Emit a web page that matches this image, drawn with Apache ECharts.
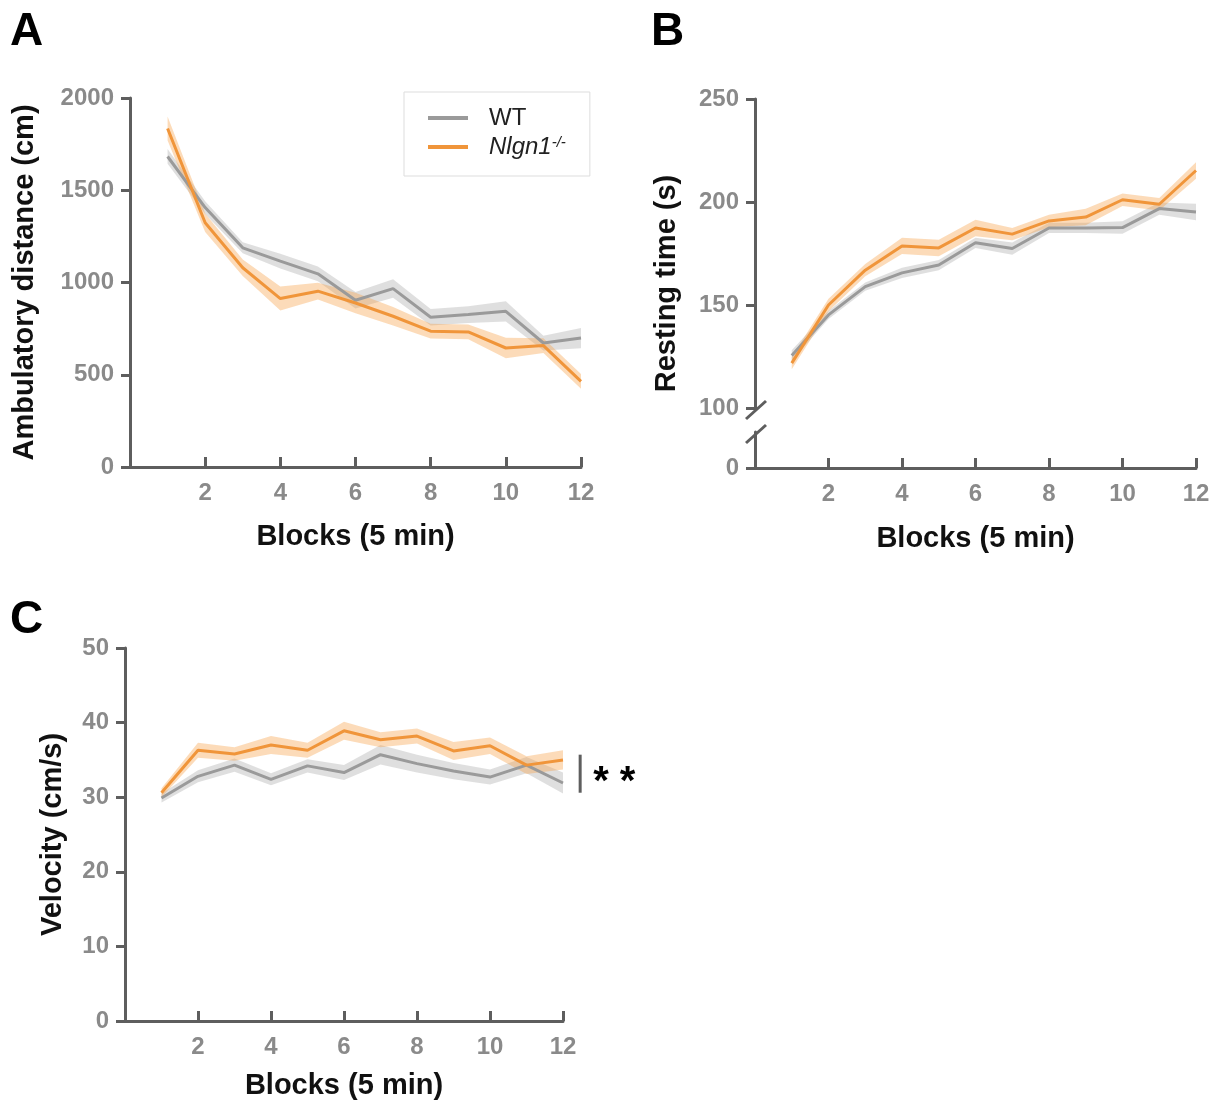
<!DOCTYPE html>
<html>
<head>
<meta charset="utf-8">
<script src="https://cdn.jsdelivr.net/npm/echarts@6/dist/echarts.min.js"></script>
<style>
html,body{margin:0;padding:0;background:#fff;}
#c{width:1223px;height:1103px;}
</style>
</head>
<body>
<div id="c"></div>
<script>
// ---------- data ----------
const blocks = [1,2,3,4,5,6,7,8,9,10,11,12];
const xTicks = [2,4,6,8,10,12];

// A: Ambulatory distance (cm)
const distWT     = [1683,1406,1188,1116,1047,904,967,812,826,844,672,699];
const distWTsem  = [40,35,30,40,40,45,50,45,45,55,40,55];
const distKO     = [1835,1324,1080,913,953,889,817,736,732,645,658,464];
const distKOsem  = [65,50,45,65,45,55,50,40,40,55,40,40];

// B: Resting time (s)
const restWT     = [125.5,145.2,158.9,165.6,169.4,180.2,177.4,187.4,187.4,187.6,196.8,195.2];
const restWTsem  = [2.5,2,2,2.5,2.5,2.5,3,2.5,2.5,3,3,4];
const restKO     = [121.8,150,166.9,178.7,177.7,187.4,184.4,190.8,192.7,201.1,198.9,215.3];
const restKOsem  = [3,3,3,4,4,4,3,3,4,3,3,4];

// C: Velocity (cm/s)
const velWT      = [29.9,32.8,34.3,32.4,34.2,33.3,35.7,34.5,33.5,32.7,34.3,31.9];
const velWTsem   = [0.6,0.8,0.9,0.8,0.9,1.0,1.3,1.2,1.1,1.0,1.1,1.4];
const velKO      = [30.6,36.3,35.8,37.0,36.3,38.9,37.7,38.2,36.2,36.9,34.3,35.0];
const velKOsem   = [0.6,1.0,0.9,1.2,1.0,1.2,1.0,1.0,1.2,1.1,1.2,1.3];

const groupNames = ['WT','Nlgn1'];
const sigText = '* *';
const sigRange = [35.7, 30.6];

// ---------- styles ----------
const C_WT = '#9a9a9a', C_KO = '#f0953a';
const B_WT = 'rgba(150,150,150,0.30)', B_KO = 'rgba(246,160,70,0.38)';
const AX = '#5e5e5e', LBL = '#8a8a8a';
const FONT = 'Arial, "Liberation Sans", sans-serif';
const NAME_STYLE = {fontSize:29, fontWeight:'bold', color:'#111', fontFamily:FONT};

function axisX(grid, show, name, gap){
  return {
    type:'value', gridIndex:grid, min:0, max:12, interval:2, show:show,
    name:name||'', nameLocation:'middle', nameGap:gap||52,
    nameTextStyle:NAME_STYLE,
    axisLine:{show:true, lineStyle:{color:AX, width:3}},
    axisTick:{show:true, inside:true, length:10, lineStyle:{color:AX, width:3}},
    axisLabel:{margin:14, fontSize:24, fontWeight:'bold', color:LBL, fontFamily:FONT,
      formatter:v=> xTicks.indexOf(v)>=0 ? String(v) : ''},
    splitLine:{show:false}
  };
}
function axisY(grid, min, max, interval, name, gap){
  return {
    type:'value', gridIndex:grid, min:min, max:max, interval:interval,
    name:name||'', nameLocation:'middle', nameGap:gap||90,
    nameTextStyle:NAME_STYLE,
    axisLine:{show:true, lineStyle:{color:AX, width:3}},
    axisTick:{show:true, inside:false, length:9, lineStyle:{color:AX, width:3}},
    axisLabel:{margin:16, fontSize:24, fontWeight:'bold', color:LBL, fontFamily:FONT,
      formatter:v=>String(v)},
    splitLine:{show:false}
  };
}

function pairs(arr){ return blocks.map((b,i)=>[b, arr[i]]); }
function bandSeries(xi, yi, mean, sem, color){
  const rows = blocks.map((b,i)=>[b, mean[i]-sem[i], mean[i]+sem[i]]);
  return {
    type:'custom', xAxisIndex:xi, yAxisIndex:yi, data:rows, encode:{x:0, y:[1,2]},
    silent:true, z:1,
    renderItem:(params, api)=>{
      if (params.dataIndex !== 0) return null;
      const pts = [];
      for (let i=0;i<rows.length;i++) pts.push(api.coord([rows[i][0], rows[i][2]]));
      for (let i=rows.length-1;i>=0;i--) pts.push(api.coord([rows[i][0], rows[i][1]]));
      return {type:'polygon', shape:{points:pts}, style:{fill:color}};
    }
  };
}
function lineSeries(xi, yi, mean, color, name){
  return {type:'line', name:name, xAxisIndex:xi, yAxisIndex:yi, data:pairs(mean),
    symbol:'none', lineStyle:{color:color, width:3}, itemStyle:{color:color}, z:3, silent:true};
}

const chart = echarts.init(document.getElementById('c'), null, {renderer:'canvas'});

const series = [
  bandSeries(0,0, distWT, distWTsem, B_WT),
  bandSeries(0,0, distKO, distKOsem, B_KO),
  lineSeries(0,0, distWT, C_WT, groupNames[0]),
  lineSeries(0,0, distKO, C_KO, groupNames[1]),
  bandSeries(1,1, restWT, restWTsem, B_WT),
  bandSeries(1,1, restKO, restKOsem, B_KO),
  lineSeries(1,1, restWT, C_WT, groupNames[0]),
  lineSeries(1,1, restKO, C_KO, groupNames[1]),
  bandSeries(4,4, velWT, velWTsem, B_WT),
  bandSeries(4,4, velKO, velKOsem, B_KO),
  lineSeries(4,4, velWT, C_WT, groupNames[0]),
  lineSeries(4,4, velKO, C_KO, groupNames[1])
];

const yB2 = axisY(2, 0, 10, 10, '', 0);
yB2.axisTick.customValues = [0];
yB2.axisLabel.customValues = [0];
yB2.axisLabel.formatter = v => v===0 ? '0' : '';

const yBname = {
  type:'value', gridIndex:3, min:0, max:1,
  name:'Resting time (s)', nameLocation:'middle', nameGap:74,
  nameTextStyle:NAME_STYLE,
  axisLine:{show:false}, axisTick:{show:false}, axisLabel:{show:false}, splitLine:{show:false}
};

const TITLE_STYLE = {fontSize:46, fontWeight:'bold', color:'#000', fontFamily:FONT};
const option = {
  animation:false,
  backgroundColor:'#fff',
  title:[
    {text:'A', left:10, top:9, padding:0, textStyle:TITLE_STYLE},
    {text:'B', left:651, top:9, padding:0, textStyle:TITLE_STYLE},
    {text:'C', left:10, top:597, padding:0, textStyle:TITLE_STYLE}
  ],
  legend:{
    data:groupNames, orient:'vertical', left:404, top:92,
    padding:[14,24,17,24], itemGap:5, itemWidth:40, itemHeight:4, icon:'rect',
    borderColor:'#dddddd', borderWidth:1,
    formatter: n => n==='Nlgn1' ? '{it|Nlgn1}{sup|-/-}' : n,
    textStyle:{fontSize:24, color:'#222', fontFamily:FONT, padding:[0,0,0,16],
      rich:{it:{fontSize:24, fontStyle:'italic', color:'#222', fontFamily:FONT},
            sup:{fontSize:15, fontStyle:'italic', color:'#222', fontFamily:FONT, verticalAlign:'top'}}}
  },
  grid:[
    {left:130, top:98, width:451, height:369},
    {left:755, top:99, width:441, height:309},
    {left:755, top:432, width:441, height:36},
    {left:755, top:99, width:441, height:369},
    {left:125, top:648, width:438, height:373}
  ],
  xAxis:[
    axisX(0,true,'Blocks (5 min)',55),
    axisX(1,false),
    axisX(2,true,'Blocks (5 min)',56),
    axisX(3,false),
    axisX(4,true,'Blocks (5 min)',50)
  ],
  yAxis:[
    axisY(0,0,2000,500,'Ambulatory distance (cm)',91),
    axisY(1,100,250,50,''),
    yB2,
    yBname,
    axisY(4,0,50,10,'Velocity (cm/s)',58)
  ],
  series:series
};

chart.setOption(option);

// decorations: axis-break slashes on B and significance bar on C
const pTop = chart.convertToPixel({gridIndex:1}, [0, 100]);
const pBot = chart.convertToPixel({gridIndex:2}, [0, 10]);
const pS1 = chart.convertToPixel({gridIndex:4}, [12.47, sigRange[0]]);
const pS2 = chart.convertToPixel({gridIndex:4}, [12.47, sigRange[1]]);
function slash(cx, cy){
  return {type:'line', shape:{x1:cx-9, y1:cy+9, x2:cx+11, y2:cy-9}, style:{stroke:AX, lineWidth:3}, z:10};
}
const SIG_FS = 40;
chart.setOption({graphic:[
  slash(pTop[0], pTop[1]+2),
  slash(pBot[0], pBot[1]+2),
  {type:'line', shape:{x1:pS1[0], y1:pS1[1], x2:pS2[0], y2:pS2[1]}, style:{stroke:AX, lineWidth:3}, z:10},
  {type:'text', x:pS1[0]+13, y:(pS1[1]+pS2[1])/2 + SIG_FS*0.22,
   style:{text:sigText, fontSize:SIG_FS, fontWeight:'bold', fill:'#000', fontFamily:FONT, verticalAlign:'middle'}, z:10}
]});
</script>
</body>
</html>
